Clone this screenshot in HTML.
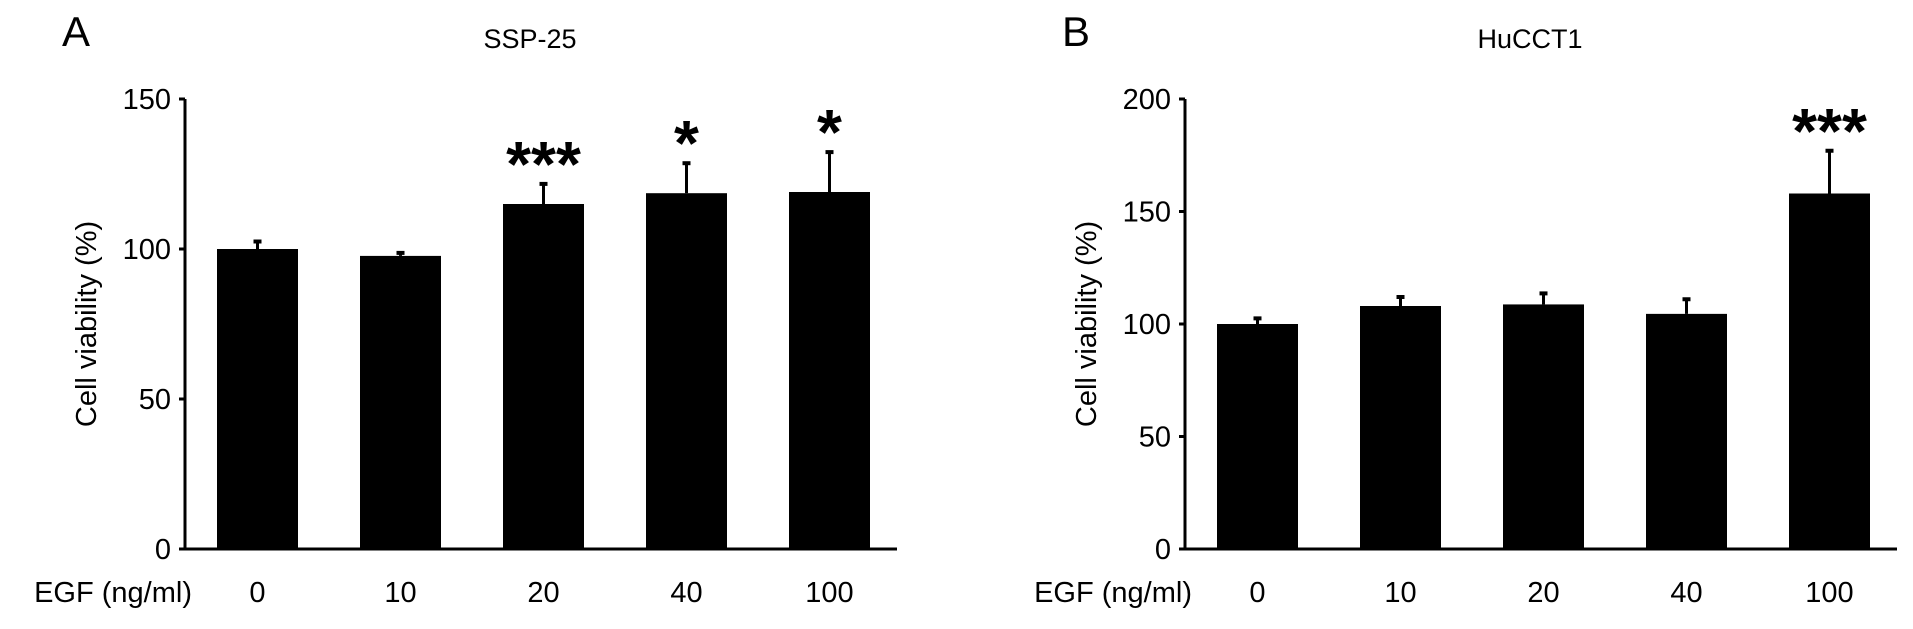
<!DOCTYPE html>
<html><head><meta charset="utf-8"><style>
body{margin:0;background:#fff;width:1913px;height:624px;overflow:hidden}
svg text{font-family:"Liberation Sans",Arial,sans-serif;fill:#000}
</style></head><body>
<svg id="chart" width="1913" height="624"></svg>
<script>
const categories=["0","10","20","40","100"];
const valuesA=[100,97.7,115,118.6,119];
const errorsA=[2.5,1,6.7,10,13.3];
const starsA=["","","***","*","*"];
const ticksA=[0,50,100,150];
const valuesB=[100,108,108.7,104.5,158];
const errorsB=[2.5,4,4.9,6.5,19];
const starsB=["","","","","***"];
const ticksB=[0,50,100,150,200];

const NS="http://www.w3.org/2000/svg";
const svg=document.getElementById('chart');
function mk(tag,attrs,parent){const e=document.createElementNS(NS,tag);for(const k in attrs)e.setAttribute(k,attrs[k]);(parent||svg).appendChild(e);return e;}

function panel(ox,letter,title,values,errors,stars,ticks,ymax){
  const g=mk('g',{});
  
  
  const y0=549,ytop=99,axX=ox+185;
  const y=v=>y0-(v/ymax)*(y0-ytop);
  const xc=i=>ox+257.5+i*143;
  const bw=81;
  const L=mk('text',{x:ox+76,y:46,'font-size':42,'text-anchor':'middle'},g);L.textContent=letter;
  
  
  const T=mk('text',{x:ox+530,y:48,'font-size':27,'text-anchor':'middle'},g);T.textContent=title;
  
  
  const ya=mk('line',{x1:axX,y1:ytop,x2:axX,y2:y0+1,stroke:'#000','stroke-width':3},g);
  
  
  const xa=mk('line',{x1:axX,y1:y0,x2:ox+897,y2:y0,stroke:'#000','stroke-width':3},g);
  
  
  ticks.forEach(t=>{
    const tl=mk('line',{x1:axX-6,y1:y(t),x2:axX,y2:y(t),stroke:'#000','stroke-width':3},g);
    
    
    const tt=mk('text',{x:axX-14,y:y(t)+10,'font-size':29,'text-anchor':'end'},g);tt.textContent=t;
    
    
  });
  const yt=mk('text',{x:0,y:0,'font-size':29,'text-anchor':'middle',transform:`translate(${ox+96},${(ytop+y0)/2}) rotate(-90)`},g);
  yt.textContent='Cell viability (%)';
  
  
  const xt=mk('text',{x:ox+192,y:602,'font-size':29,'text-anchor':'end'},g);xt.textContent='EGF (ng/ml)';
  
  
  values.forEach((v,i)=>{
    const cx=xc(i);
    const e=mk('line',{x1:cx,y1:y(v),x2:cx,y2:y(v+errors[i]),stroke:'#000','stroke-width':3},g);
    
    
    const c=mk('line',{x1:cx-4,y1:y(v+errors[i]),x2:cx+4,y2:y(v+errors[i]),stroke:'#000','stroke-width':4},g);
    
    
    const r=mk('rect',{x:cx-bw/2,y:y(v),width:bw,height:y0-y(v),fill:'#000'},g);
    
    
    const lb=mk('text',{x:cx,y:602,'font-size':29,'text-anchor':'middle'},g);lb.textContent=categories[i];
    
    
    if(stars[i]){
      const s=mk('text',{x:cx,y:y(v+errors[i])+2,'font-size':64,'font-weight':'bold','text-anchor':'middle'},g);
      s.textContent=stars[i];
      
      
    }
  });
}
panel(0,'A','SSP-25',valuesA,errorsA,starsA,ticksA,150);
panel(1000,'B','HuCCT1',valuesB,errorsB,starsB,ticksB,200);
</script>
</body></html>
